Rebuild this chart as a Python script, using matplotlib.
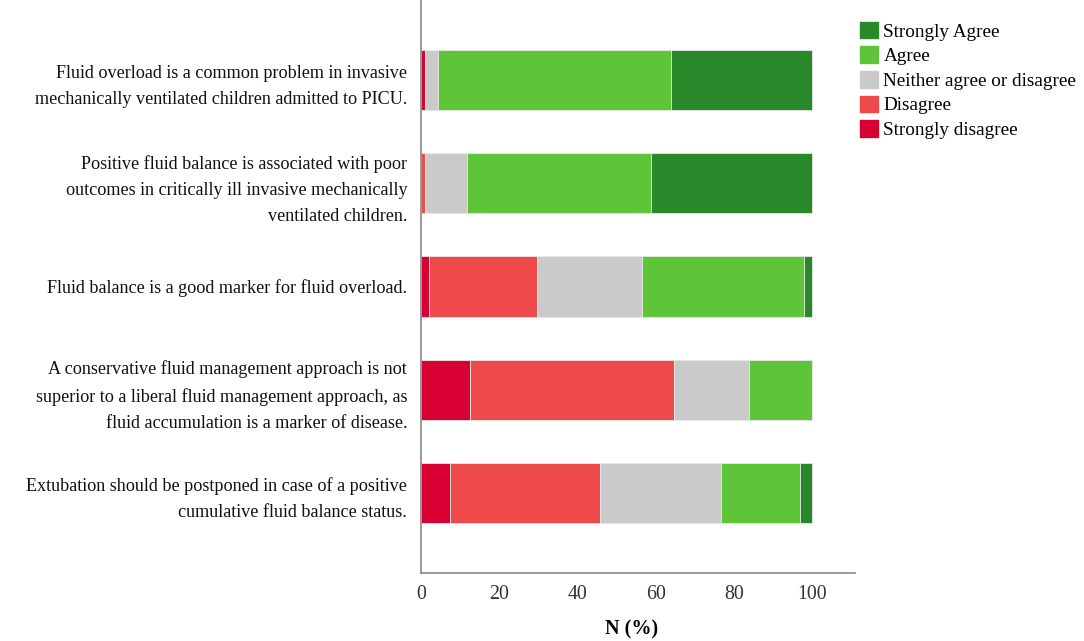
import matplotlib.pyplot as plt
from matplotlib.patches import Patch
import numpy as np

plt.rcParams['font.family'] = ['Liberation Serif', 'DejaVu Serif']

statements = [
    "Fluid overload is a common problem in invasive\nmechanically ventilated children admitted to PICU.",
    "Positive fluid balance is associated with poor\noutcomes in critically ill invasive mechanically\nventilated children.",
    "Fluid balance is a good marker for fluid overload.",
    "A conservative fluid management approach is not\nsuperior to a liberal fluid management approach, as\nfluid accumulation is a marker of disease.",
    "Extubation should be postponed in case of a positive\ncumulative fluid balance status.",
]

# percentages per response, one value per statement
strongly_disagree = [1.1, 0.0, 2.0, 12.6, 7.3]
disagree = [0.0, 1.1, 27.7, 52.2, 38.4]
neither = [3.2, 10.7, 26.7, 19.2, 31.0]
agree = [59.7, 46.9, 41.6, 16.0, 20.2]
strongly_agree = [36.0, 41.3, 2.0, 0.0, 3.1]

series = [
    ("Strongly disagree", strongly_disagree, "#d80032"),
    ("Disagree", disagree, "#ee4a4b"),
    ("Neither agree or disagree", neither, "#cacaca"),
    ("Agree", agree, "#5ec438"),
    ("Strongly Agree", strongly_agree, "#298829"),
]

fig = plt.figure(figsize=(10.84, 6.41), dpi=100)
ax = fig.add_axes([0.3884, 0.1061, 0.4004, 0.8939])

y = np.arange(len(statements))
left = np.zeros(len(statements))
for name, vals, col in series:
    vals = np.array(vals)
    ax.barh(y, vals, left=left, height=0.583, color=col,
            edgecolor="#e8e8e8", linewidth=0.6, label=name)
    left += vals

ax.set_ylim(4.78, -0.78)
ax.set_xlim(0, 111)
ax.set_xticks([0, 20, 40, 60, 80, 100])
ax.set_yticks(y)
ax.set_yticklabels(statements, fontsize=13.1, color="#111111",
                   linespacing=1.7)
ax.tick_params(axis="both", length=0)
ax.tick_params(axis="y", pad=10)
ax.tick_params(axis="x", pad=9, labelsize=14.3, labelcolor="#333333")
for s in ["top", "right"]:
    ax.spines[s].set_visible(False)
for s in ["left", "bottom"]:
    ax.spines[s].set_color("#888888")
    ax.spines[s].set_linewidth(1.2)

ax.set_xlabel("N (%)", fontsize=14.5, fontweight="bold")
ax.xaxis.set_label_coords(0.486, -0.082)

handles = [Patch(facecolor=c, edgecolor=c, label=n) for n, v, c in series[::-1]]
fig.legend(handles=handles, loc="upper left", bbox_to_anchor=(0.7934, 0.966),
           frameon=False, fontsize=13.8, handlelength=0.92, handleheight=0.95,
           handletextpad=0.3, labelspacing=0.3, borderaxespad=0, borderpad=0)

fig.savefig("out.png", dpi=100)
